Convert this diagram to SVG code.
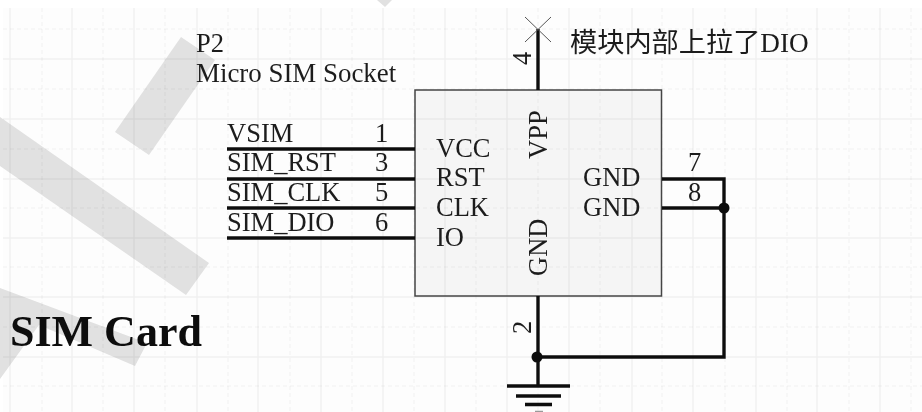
<svg xmlns="http://www.w3.org/2000/svg" width="922" height="412" viewBox="0 0 922 412">
<defs>
<filter id="soft" x="-5%" y="-5%" width="110%" height="110%"><feGaussianBlur stdDeviation="0.45"/></filter>
</defs>
<style>
.wm{fill:#e1e1e1}
.maj{stroke:#000;stroke-opacity:.05;stroke-width:1.5;fill:none}
.min{stroke:#000;stroke-opacity:.05;stroke-width:1;stroke-dasharray:4 3;fill:none}
.wire{stroke:#0a0a0a;stroke-width:3.3;fill:none}
.thin{stroke:#555;stroke-width:1;fill:none}
text{font-family:"Liberation Serif","Noto Sans CJK SC",serif;font-size:26.5px;fill:#1c1c1c}
.dot{fill:#0a0a0a}
</style>
<rect width="922" height="412" fill="#ffffff"/>
<rect x="3" y="8" width="919" height="404" fill="#fdfdfd"/>
<g id="watermark" filter="url(#soft)">
<polygon class="wm" points="181,37 215,60 149,155 115,132"/>
<polygon class="wm" points="0,117 209,263 186,295 0,166"/>
<polygon class="wm" points="0,288 147,343 135,366 39,325 0,379"/>
<polygon class="wm" points="377,0 392,0 385,7"/>
</g>
<g id="grid">
<path class="maj" d="M10 8V412M72 8V412M134 8V412M197 8V412M258 8V412M321 8V412M383 8V412M445 8V412M507 8V412M569 8V412M632 8V412M693 8V412M756 8V412M817 8V412M880 8V412M3 59H922M3 119H922M3 179H922M3 238H922M3 297H922M3 357H922"/>
<path class="min" d="M42 8V412M103 8V412M165 8V412M228 8V412M290 8V412M352 8V412M414 8V412M476 8V412M538 8V412M600 8V412M662 8V412M725 8V412M787 8V412M849 8V412M911 8V412M3 29H922M3 89H922M3 149H922M3 208H922M3 267H922M3 327H922M3 386H922"/>
</g>
<g filter="url(#soft)">
<g id="P2">
<rect x="415" y="90" width="246.500" height="206" fill="#000" fill-opacity=".03" stroke="#444" stroke-width="1.5"/>
<text x="196" y="52">P2</text>
<text x="196" y="82" style="font-size:26.9px">Micro SIM Socket</text>
<text x="436" y="157">VCC</text>
<text x="436" y="186">RST</text>
<text x="436" y="216">CLK</text>
<text x="436" y="246">IO</text>
<text x="583" y="186">GND</text>
<text x="583" y="216">GND</text>
<text transform="translate(547,159) rotate(-90)">VPP</text>
<text transform="translate(547,276) rotate(-90)">GND</text>
<text x="375" y="142">1</text>
<text x="375" y="171">3</text>
<text x="375" y="201">5</text>
<text x="375" y="231">6</text>
<text x="688" y="171">7</text>
<text x="688" y="201">8</text>
<text transform="translate(531,65) rotate(-90)">4</text>
<text transform="translate(531,334) rotate(-90)">2</text>
</g>
<g id="labels">
<text x="227" y="142">VSIM</text>
<text x="227" y="171">SIM_RST</text>
<text x="227" y="201">SIM_CLK</text>
<text x="227" y="231">SIM_DIO</text>
<text x="570" y="52" style="font-size:27.2px">模块内部上拉了DIO</text>
<text x="10" y="346" style="font-size:44px;font-weight:bold;fill:#111">SIM Card</text>
</g>
<g id="connectors">
<path class="wire" d="M227 149H415M227 179H415M227 208H415M227 238H415"/>
<path class="wire" d="M538 29V90M538 296V386M662 179H724V357H538M662 208H724"/>
<path class="thin" d="M525 17L551 42M551 17L525 42"/>
<circle class="dot" cx="724" cy="208" r="5.500"/>
<circle class="dot" cx="537" cy="357" r="5.500"/>
</g>
<g id="ground">
<path class="wire" d="M507 386H570M516 396H561M525 404.500H552"/>
<path d="M535 411.500H543" stroke="#999" stroke-width="1.500"/>
</g>
</g>
</svg>
